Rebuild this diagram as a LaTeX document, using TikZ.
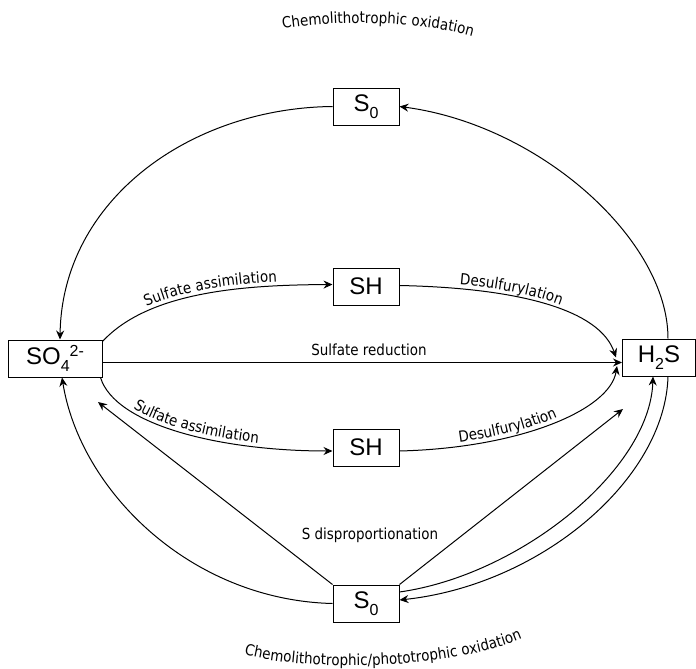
\documentclass[tikz,border=0pt]{standalone}
\usepackage{fontspec}
\setmainfont{Liberation Sans}
\newfontfamily\labfont[FakeStretch=0.88]{DejaVu Sans}
\usetikzlibrary{arrows.meta,decorations.text}
\newcommand\mysub[1]{\raisebox{-7pt}{\fontsize{16}{18}\selectfont #1}}
\newcommand\mysup[1]{\raisebox{8pt}{\fontsize{16}{18}\selectfont #1}}
\newcommand\labsize{\labfont\fontsize{15.3}{18}\selectfont}
\begin{document}
\begin{tikzpicture}[x=1pt,y=-1pt,
  box/.style={draw, line width=1pt, minimum width=66pt, minimum height=37pt, inner sep=0pt, font=\fontsize{24}{28}\selectfont},
  conn/.style={line width=1pt, -{Stealth[length=9pt,width=8pt,inset=3pt]}},
  lab/.style={font=\labsize, inner sep=0pt},
  curvelab/.style 2 args={decorate, decoration={text along path, text align={center, right indent=#2}, raise=4pt, text={|\labsize|#1}}}
]
\useasboundingbox (0,0) rectangle (696,669);

% nodes
\node[box] (s0top) at (366,106.5) {S\mysub{0}};
\node[box] (shtop) at (366,286.5) {SH};
\node[box] (shbot) at (366,447.5) {SH};
\node[box] (s0bot) at (366,603.5) {S\mysub{0}};
\node[box, minimum width=94pt] (so4) at (55,358.5) {SO\mysub{4}\mysup{2-}};
\node[box, minimum width=73pt] (h2s) at (659,357.5) {H\mysub{2}S};

\coordinate (dispL) at (98,402);
\coordinate (dispR) at (623,409);

% outer arcs
\draw[conn] (s0top.west) .. controls (190,108) and (62,200) .. ([xshift=5pt]so4.north);
\draw[conn] ([xshift=9pt]h2s.north) .. controls (668,240) and (540,125) .. (s0top.east);

% sulfate reduction
\draw[conn] ([yshift=-4pt]so4.east) -- ([yshift=-5pt]h2s.west);
\node[lab] (lred) at (369,350) {Sulfate reduction};

% upper assimilation branch
\draw[conn] ([yshift=-2pt]so4.north east) .. controls (150,290) and (250,285) .. ([yshift=2pt]shtop.west);
\path[curvelab={Sulfate assimilation}{0pt}] ([yshift=-2pt]so4.north east) .. controls (150,290) and (250,285) .. ([yshift=2pt]shtop.west);
\draw[conn] ([yshift=1pt]shtop.east) .. controls (520,288) and (600,310) .. ([xshift=-6pt]h2s.west);
\path[curvelab={Desulfurylation}{17pt}] ([yshift=1pt]shtop.east) .. controls (520,288) and (600,310) .. ([xshift=-6pt]h2s.west);

% lower assimilation branch
\draw[conn] ([xshift=-2pt]so4.south east) .. controls (115,425) and (220,451) .. ([yshift=-3.5pt]shbot.west);
\path[curvelab={Sulfate assimilation}{28pt}] ([xshift=-2pt]so4.south east) .. controls (115,425) and (220,451) .. ([yshift=-3.5pt]shbot.west);
\draw[conn] ([yshift=-3.5pt]shbot.east) .. controls (520,448) and (610,410) .. ([xshift=-5pt,yshift=-8.5pt]h2s.west);
\path[curvelab={Desulfurylation}{22pt}] ([yshift=-3.5pt]shbot.east) .. controls (520,448) and (610,410) .. ([xshift=-5pt,yshift=-8.5pt]h2s.west);

% disproportionation
\draw[conn] (s0bot.north west) -- (dispL);
\draw[conn] (s0bot.north east) -- (dispR);
\node[lab] (ldisp) at (370,535) {S disproportionation};

% bottom arcs
\draw[conn] (s0bot.west) .. controls (190,600) and (80,490) .. ([xshift=7pt]so4.south);
\draw[conn] ([yshift=11.5pt]s0bot.east) .. controls (520,575) and (650,470) .. ([xshift=-6pt]h2s.south);
\draw[conn] ([xshift=9pt]h2s.south) .. controls (665,480) and (540,585) .. ([yshift=3.5pt]s0bot.east);

% curved titles
\path[decorate, decoration={text along path, text align=center, text={|\labsize|Chemolithotrophic oxidation}}] (270,31) .. controls (320,20) and (420,18) .. (485,40);
\path[decorate, decoration={text along path, text align=center, text={|\labsize|Chemolithotrophic/phototrophic oxidation}}] (238,653) .. controls (300,672) and (450,672) .. (528,636);
\end{tikzpicture}
\end{document}
